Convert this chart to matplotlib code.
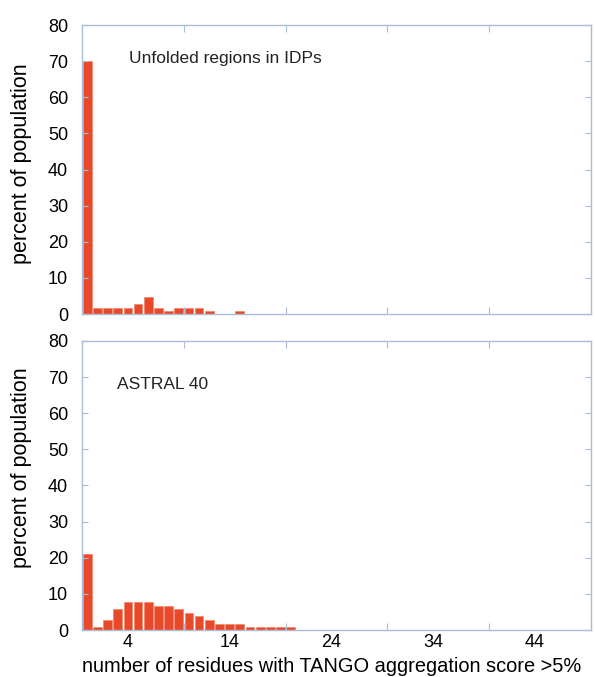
import matplotlib
matplotlib.use('Agg')
import matplotlib.pyplot as plt
import numpy as np

plt.rcParams['font.family'] = ['Liberation Sans', 'DejaVu Sans']

# percent of population per number of aggregating residues (0..49)
n_cats = 50
idp_values = [70, 1.8, 1.8, 1.8, 1.8, 2.8, 4.8, 1.8, 0.9, 1.8, 1.8, 1.8, 0.9, 0, 0, 0.9]
astral_values = [21, 0.7, 2.7, 5.8, 7.8, 7.8, 7.8, 6.7, 6.7, 5.8, 4.7, 3.8, 2.7,
                 1.8, 1.8, 1.8, 0.7, 0.7, 0.7, 0.7, 0.7]
panel_titles = ['Unfolded regions in IDPs', 'ASTRAL 40']
x_ticklabels = ['4', '14', '24', '34', '44']
y_label = 'percent of population'
x_label = 'number of residues with TANGO aggregation score >5%'

bar_color = '#e8492b'
frame_color = '#a9bdd9'

fig = plt.figure(figsize=(5.95, 6.77), dpi=100)
ax1 = fig.add_axes([0.138, 0.536, 0.855, 0.427])
ax2 = fig.add_axes([0.138, 0.0694, 0.855, 0.427])


def make_panel(ax, values, title, title_pos, ylab_y):
    x = np.arange(len(values))
    ax.bar(x, values, width=0.86, color=bar_color, edgecolor='#f07a5e', linewidth=0.4)
    ax.set_xlim(-0.5, n_cats - 0.5)
    ax.set_ylim(0, 80)
    ax.set_yticks(np.arange(0, 81, 10))
    ax.set_xticks(np.arange(9.5, n_cats, 10))
    ax.set_xticklabels([])
    ax.set_xticks([4, 14, 24, 34, 44], minor=True)
    ax.tick_params(axis='x', which='major', direction='in', top=True, bottom=True,
                   length=5, color=frame_color)
    ax.tick_params(axis='x', which='minor', length=0, labelsize=13, pad=3)
    ax.tick_params(axis='y', direction='in', left=True, right=True, length=4,
                   color=frame_color, labelsize=13, pad=10)
    for s in ax.spines.values():
        s.set_color(frame_color)
        s.set_linewidth(1.0)
    ax.set_ylabel(y_label, fontsize=15.5)
    ax.yaxis.set_label_coords(-0.098, ylab_y)
    ax.text(title_pos[0], title_pos[1], title, transform=ax.transAxes,
            fontsize=12.5, va='center', ha='left', color='#222222')


make_panel(ax1, idp_values, panel_titles[0], (0.092, 0.886), 0.52)
make_panel(ax2, astral_values, panel_titles[1], (0.069, 0.848), 0.56)

ax2.set_xticklabels(x_ticklabels, minor=True)
ax2.set_xlabel(x_label, fontsize=14.4, loc='left', labelpad=4)

fig.savefig('out.png', dpi=100)
